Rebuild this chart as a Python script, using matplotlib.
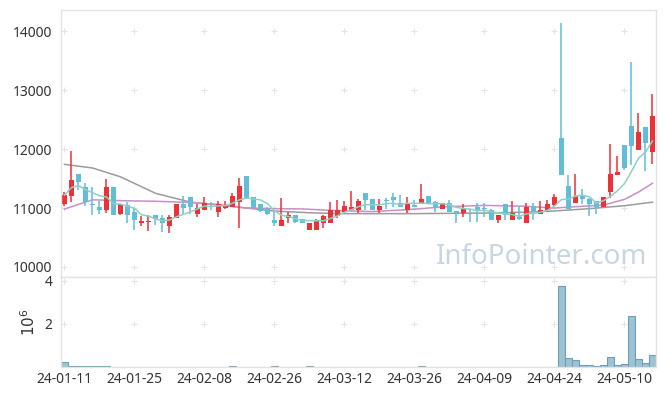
import matplotlib
matplotlib.use("Agg")
import matplotlib.pyplot as plt
import numpy as np
import pandas as pd

plt.rcParams['font.family'] = ['Noto Sans', 'DejaVu Sans']

# Daily candles (index = trading day, 24-01-11 .. 24-05-17)
opens = [11073, 11209, 11577, 11357, 11074, 11023, 10966, 11356, 10899, 11046,
         10927, 10741, 10758, 10877, 10831, 10695, 10826, 11074, 11182, 10900,
         10967, 11040, 10940, 10995, 11023, 11107, 11547, 11187, 11068, 10978,
         10797, 10701, 10836, 10877, 10808, 10627, 10627, 10740, 10752, 10865,
         10927, 10966, 10966, 11260, 11147, 10966, 11136, 11192, 11080, 10966,
         11050, 11068, 11209, 11107, 10977, 11090, 10955, 10910, 10983, 11023,
         11000, 10966, 10797, 11068, 10797, 10853, 10752, 11040, 10893, 10966,
         11056, 12187, 11373, 11090, 11215, 11147, 11125, 11023, 11277, 11565,
         12068, 12390, 11983, 12378, 11955]
highs = [11276, 11966, 11577, 11429, 11356, 11125, 11486, 11356, 11068, 11102,
         10995, 10865, 10877, 10877, 10882, 10877, 11063, 11203, 11182, 11063,
         11192, 11100, 11119, 11113, 11249, 11514, 11547, 11187, 11068, 11023,
         10950, 11164, 10940, 10877, 10808, 10746, 10820, 10880, 11102, 11136,
         11113, 11288, 11150, 11260, 11147, 11147, 11164, 11260, 11220, 11180,
         11130, 11407, 11209, 11125, 11090, 11136, 10955, 11063, 10983, 11090,
         11080, 10990, 10882, 11068, 11113, 11028, 11080, 11090, 11125, 11136,
         11237, 14147, 11560, 11576, 11316, 11170, 11125, 11190, 12085, 11881,
         12068, 13480, 12605, 12378, 12932]
lows = [11034, 11097, 11305, 11039, 10877, 10899, 10910, 10886, 10877, 10743,
        10627, 10695, 10615, 10712, 10600, 10576, 10826, 10893, 10900, 10853,
        10967, 10960, 10843, 10990, 11010, 10656, 11150, 10995, 10940, 10877,
        10695, 10701, 10752, 10740, 10740, 10620, 10627, 10656, 10752, 10836,
        10927, 10950, 10920, 10966, 10966, 10910, 10977, 11023, 11023, 10920,
        11023, 11068, 11080, 10927, 10977, 10940, 10752, 10853, 10769, 10763,
        10853, 10797, 10740, 10790, 10797, 10790, 10752, 10790, 10893, 10940,
        11040, 11565, 10977, 11090, 11068, 10865, 10900, 11023, 11164, 11560,
        11644, 11730, 11983, 11627, 11746]
closes = [11220, 11475, 11446, 11107, 11057, 10966, 11356, 10886, 11068, 10887,
          10797, 10786, 10786, 10819, 10741, 10848, 11063, 10995, 11023, 11007,
          11080, 11017, 11068, 11035, 11203, 11373, 11164, 10995, 10955, 10900,
          10752, 10797, 10877, 10769, 10740, 10746, 10797, 10865, 10966, 10966,
          11040, 11023, 11119, 11136, 10966, 11033, 11125, 11136, 11023, 11090,
          11023, 11150, 11080, 11023, 11090, 10940, 10920, 10983, 10966, 10966,
          10983, 10797, 10882, 10876, 10910, 10820, 11017, 10927, 10966, 11068,
          11192, 11565, 10977, 11203, 11147, 11068, 11023, 11180, 11576, 11610,
          11683, 12056, 12288, 12107, 12560]
volumes = [230000, 60000, 60000, 60000, 60000, 60000, 60000, 10000, 10000, 10000,
           10000, 10000, 10000, 10000, 10000, 10000, 10000, 10000, 10000, 10000,
           10000, 10000, 10000, 10000, 50000, 10000, 10000, 10000, 10000, 10000,
           50000, 10000, 10000, 10000, 10000, 50000, 10000, 10000, 10000, 10000,
           10000, 10000, 10000, 10000, 10000, 10000, 10000, 10000, 10000, 10000,
           10000, 50000, 10000, 10000, 10000, 10000, 10000, 10000, 10000, 10000,
           10000, 10000, 10000, 10000, 10000, 10000, 10000, 10000, 10000, 10000,
           10000, 3750000, 410000, 340000, 90000, 90000, 50000, 90000, 460000, 90000,
           140000, 2370000, 370000, 180000, 550000]

# 20 and 60 day averages (they include days before the window)
ma20_idx = [0, 4, 8, 13, 18, 22, 26, 30, 34, 38, 44, 50, 54, 60, 66, 70, 74, 77, 80, 82, 84]
ma20_val = [10983, 11140, 11125, 11115, 11095, 11060, 11000, 10990, 10985, 10960, 10940,
            10980, 11020, 11045, 11030, 11000, 11030, 11050, 11147, 11270, 11420]
ma60_idx = [0, 4, 8, 13, 18, 22, 26, 30, 35, 40, 50, 60, 66, 70, 75, 80, 84]
ma60_val = [11741, 11680, 11530, 11250, 11100, 11050, 11000, 10950, 10920, 10905, 10905,
            10915, 10930, 10950, 10990, 11040, 11100]

tick_pos = [0, 10, 20, 30, 40, 50, 60, 70, 80]
tick_labels = ['24-01-11', '24-01-25', '24-02-08', '24-02-26', '24-03-12',
               '24-03-26', '24-04-09', '24-04-24', '24-05-10']

x = np.arange(len(closes))
o = np.array(opens); c = np.array(closes)
up = c >= o
ma5 = pd.Series(closes).rolling(5, min_periods=1).mean()

red = '#ec3237'
blue = '#62bdd6'
frame = '#e3e3e3'

fig = plt.figure(figsize=(6.65, 3.96), dpi=100)
ax = fig.add_axes([0.0917, 0.3005, 0.8947, 0.6742])
axv = fig.add_axes([0.0917, 0.0732, 0.8947, 0.2273], sharex=ax)

# grid crosses
yt = [10000, 11000, 12000, 13000, 14000]
gx, gy = np.meshgrid(tick_pos, yt)
ax.plot(gx.ravel(), gy.ravel(), '+', color='#e4e4e4', markersize=5, mew=0.8, zorder=0)
vt = [2, 4]
gx2, gy2 = np.meshgrid(tick_pos, vt)
axv.plot(gx2.ravel(), gy2.ravel(), '+', color='#e4e4e4', markersize=5, mew=0.8, zorder=0)

# moving averages
ax.plot(ma60_idx, ma60_val, color='#9b9b9b', lw=1.1, zorder=1)
ax.plot(ma20_idx, ma20_val, color='#c98fc6', lw=1.1, zorder=1)
ax.plot(x, ma5, color='#8fd0c6', lw=1.1, zorder=3)

# candles
colors = np.where(up, red, blue)
ax.vlines(x, lows, highs, colors=colors, lw=1.1, zorder=2)
ax.bar(x, np.abs(c - o), bottom=np.minimum(o, c), width=0.72, color=colors, zorder=2)

ax.text(0.985, 0.075, 'InfoPointer.com', transform=ax.transAxes, ha='right', va='center',
        fontsize=20, color='#c6d7e3', zorder=0)

ax.set_xlim(-0.5, 84.5)
ax.set_ylim(9830, 14360)
ax.set_yticks(yt)
ax.tick_params(axis='x', labelbottom=False, length=0)
ax.tick_params(axis='y', length=0, labelsize=10, labelcolor='#333333', pad=6)

axv.bar(x, np.array(volumes) / 1e6, width=1.0, color='#9cc2d3', edgecolor='#6f9fb8', lw=0.8)
axv.set_ylim(0, 4.17)
axv.set_yticks(vt)
axv.set_ylabel(r'$10^6$', fontsize=11, color='#333333', labelpad=4)
axv.set_xticks(tick_pos)
axv.set_xticklabels(tick_labels)
axv.tick_params(axis='both', length=0, labelsize=10, labelcolor='#333333')
axv.tick_params(axis='y', pad=6)

for a in (ax, axv):
    for s in a.spines.values():
        s.set_color(frame)
        s.set_linewidth(1)

fig.savefig('out.png', dpi=100)
